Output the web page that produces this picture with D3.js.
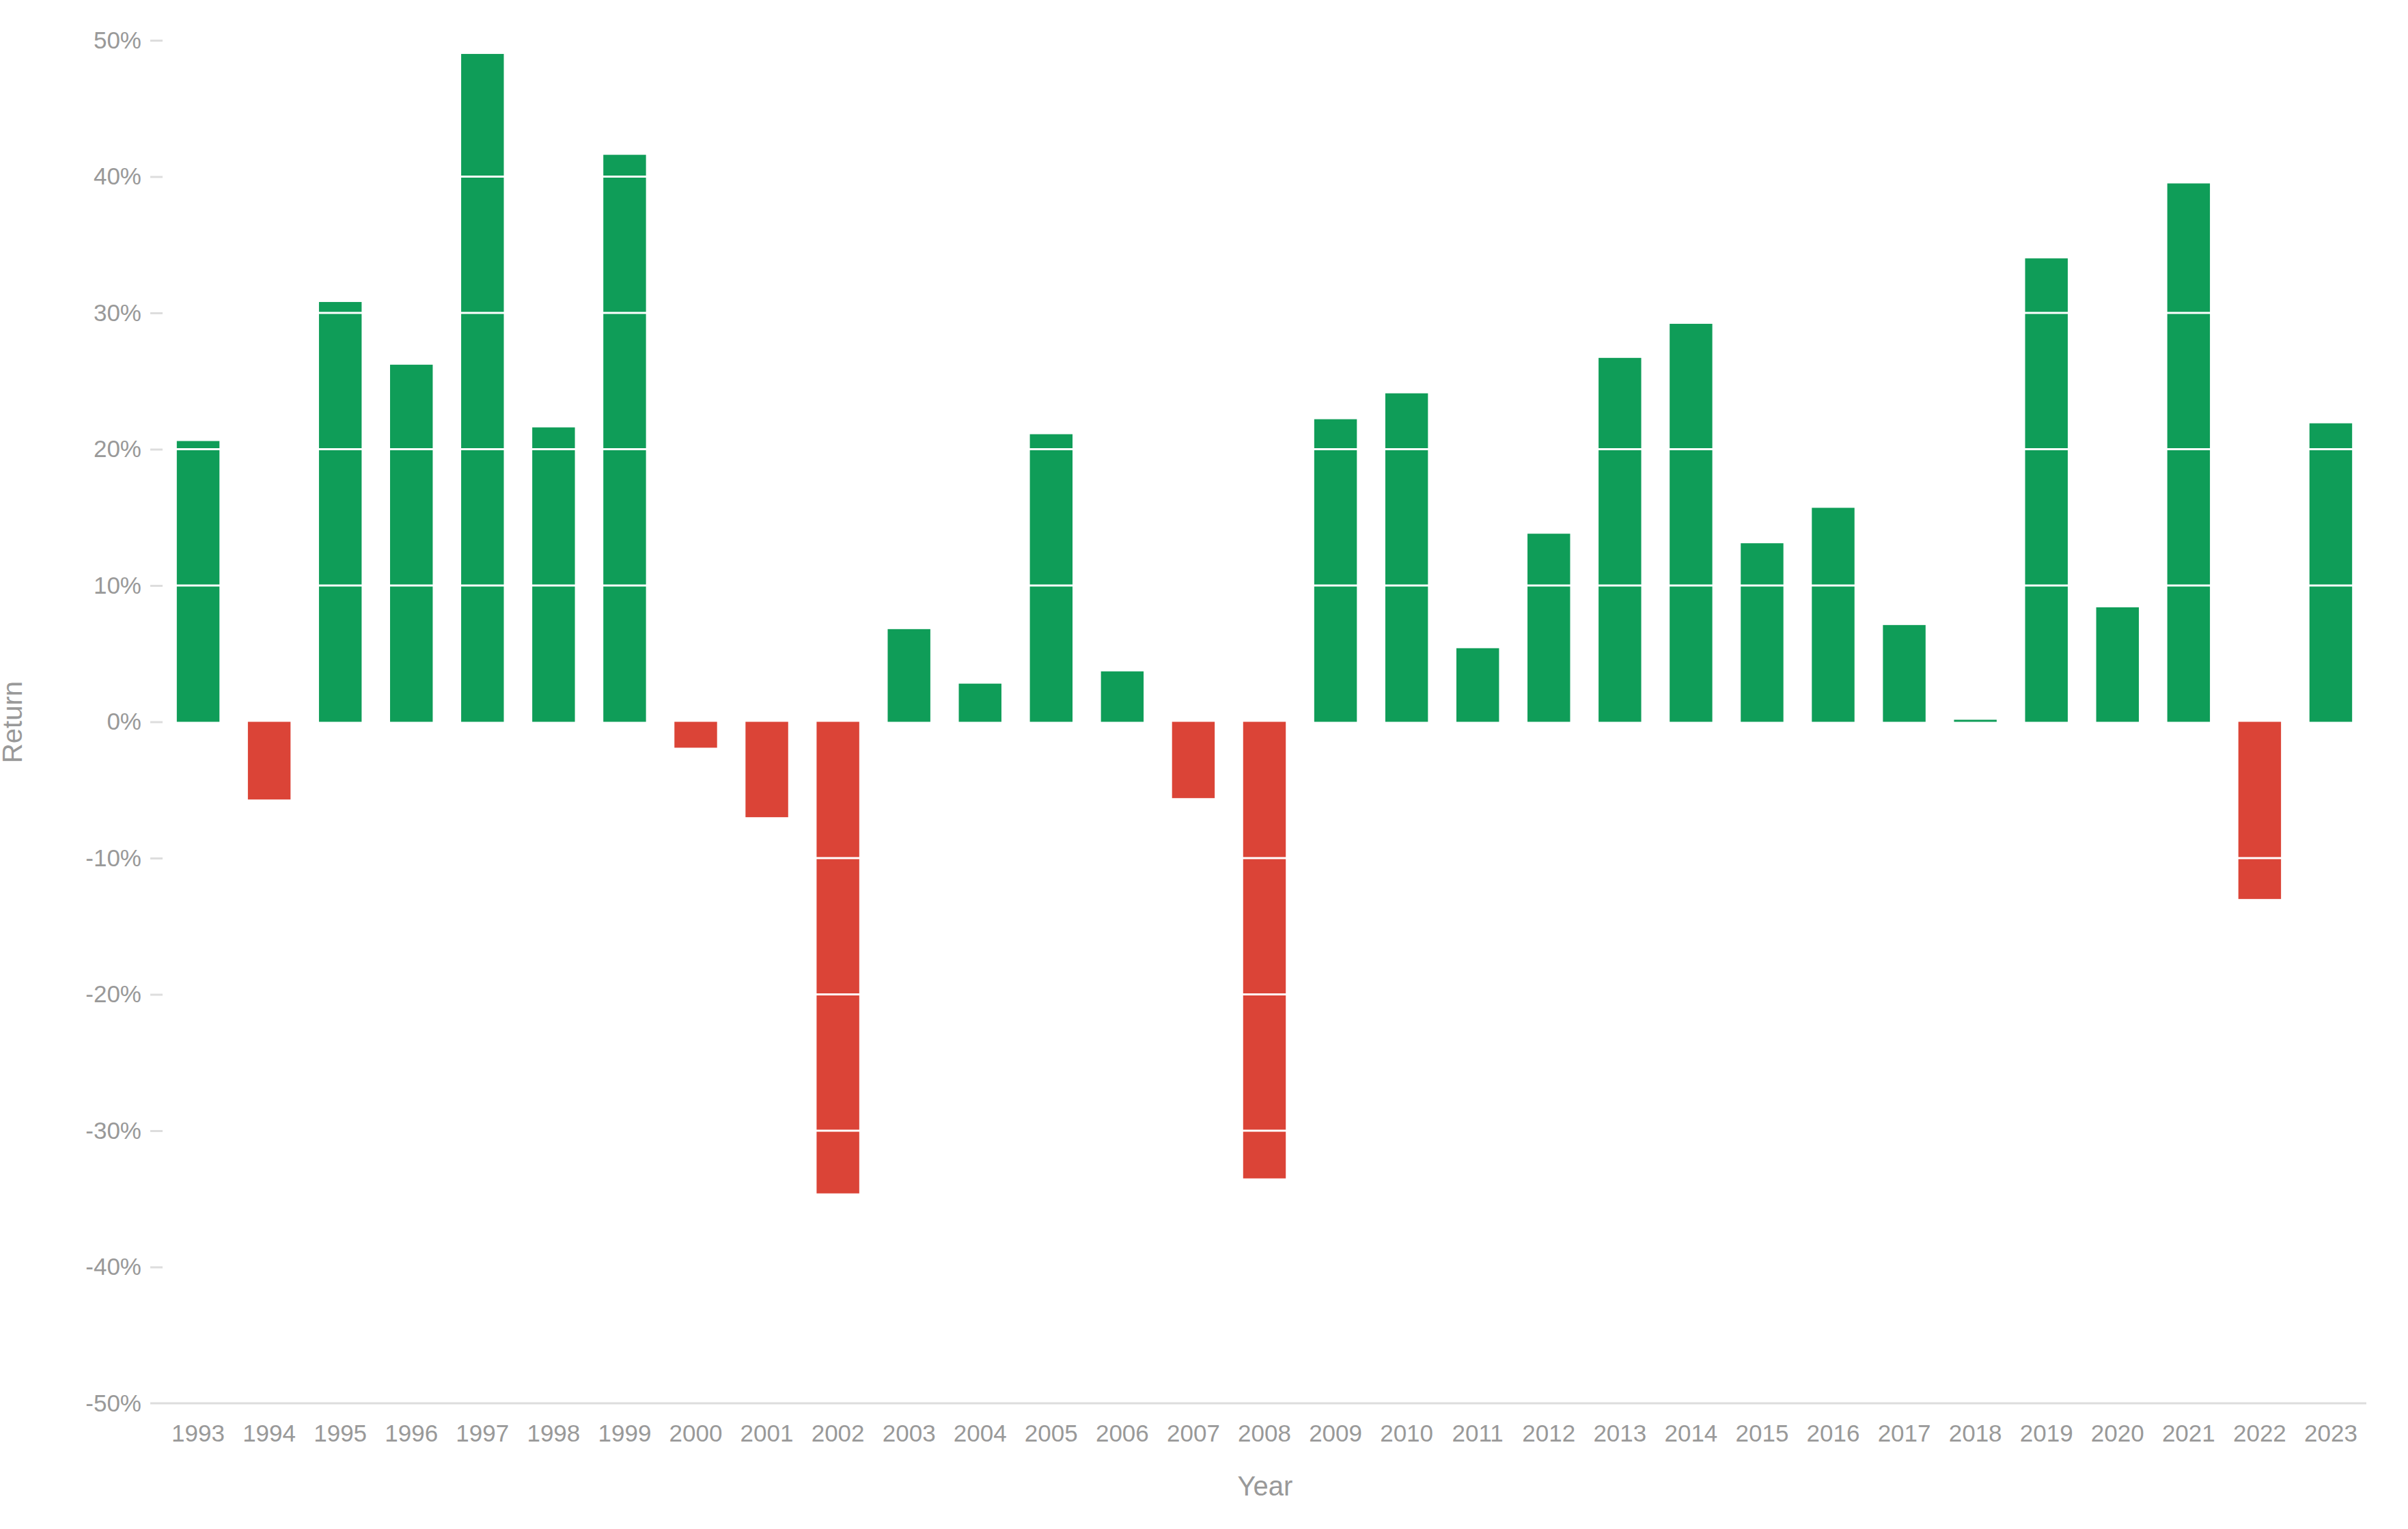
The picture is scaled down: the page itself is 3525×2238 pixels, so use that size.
<!doctype html>
<html lang="en">
  <head>
    <meta charset="utf-8">
    <title>Annual Return</title>
    <style>
      body { margin: 0; background: #fff; }
      text { font-family: "Liberation Sans", Arial, sans-serif; fill: #999; }
    </style>
  </head>
  <body>
    <script src="https://d3js.org/d3.v7.min.js"></script>
    <script>
      // data
      var years = ['1993', '1994', '1995', '1996', '1997', '1998', '1999', '2000', '2001', '2002',
                   '2003', '2004', '2005', '2006', '2007', '2008', '2009', '2010', '2011', '2012',
                   '2013', '2014', '2015', '2016', '2017', '2018', '2019', '2020', '2021', '2022', '2023'];
      var returns = [20.6, -5.7, 30.8, 26.2, 49.0, 21.6, 41.6, -1.9, -7.0, -34.6,
                     6.8, 2.8, 21.1, 3.7, -5.6, -33.5, 22.2, 24.1, 5.4, 13.8,
                     26.7, 29.2, 13.1, 15.7, 7.1, 0.15, 34.0, 8.4, 39.5, -13.0, 21.9];
      var yTicks = [-50, -40, -30, -20, -10, 0, 10, 20, 30, 40, 50];

      var data = years.map(function(y, i) { return { year: y, value: returns[i] }; });

      var width = 3525, height = 2238;

      var svg = d3.select('body').append('svg')
          .attr('width', width)
          .attr('height', height);

      var x = d3.scaleBand()
          .domain(years)
          .range([238, 3464])
          .paddingInner(0.4)
          .paddingOuter(0.2);

      var y = d3.scaleLinear()
          .domain([-50, 50])
          .range([2054, 59]);

      // bars
      svg.append('g').selectAll('rect')
        .data(data)
        .enter().append('rect')
          .attr('x', function(d) { return x(d.year); })
          .attr('width', x.bandwidth())
          .attr('y', function(d) { return y(Math.max(0, d.value)); })
          .attr('height', function(d) { return Math.abs(y(d.value) - y(0)); })
          .attr('fill', function(d) { return d.value >= 0 ? '#0f9d58' : '#db4437'; });

      // white grid lines drawn over the bars
      svg.append('g').selectAll('line')
        .data(yTicks.filter(function(t) { return t !== 0 && Math.abs(t) !== 50; }))
        .enter().append('line')
          .attr('x1', 238)
          .attr('x2', 3464)
          .attr('y1', function(d) { return y(d); })
          .attr('y2', function(d) { return y(d); })
          .attr('stroke', '#fff')
          .attr('stroke-width', 3);

      // y axis
      var yAxis = svg.append('g')
          .attr('transform', 'translate(238,0)')
          .call(d3.axisLeft(y).tickValues(yTicks).tickSize(18).tickPadding(13)
            .tickFormat(function(d) { return d + '%'; }));
      yAxis.select('.domain').remove();
      yAxis.selectAll('.tick line').attr('stroke', '#ddd').attr('stroke-width', 3);
      yAxis.selectAll('.tick text')
          .style('font-size', '35px')
          .attr('fill', '#999')
          .attr('font-family', null);
      yAxis.selectAll('.tick').filter(function(d) { return d === -50; }).select('line').remove();

      // x axis
      var xAxis = svg.append('g')
          .attr('transform', 'translate(0,2054)')
          .call(d3.axisBottom(x).tickSize(0).tickPadding(31));
      xAxis.select('.domain').remove();
      xAxis.selectAll('.tick text')
          .style('font-size', '35px')
          .attr('fill', '#999')
          .attr('font-family', null);

      svg.append('line')
          .attr('x1', 220)
          .attr('x2', 3464)
          .attr('y1', 2054)
          .attr('y2', 2054)
          .attr('stroke', '#ddd')
          .attr('stroke-width', 3);

      // axis titles
      svg.append('text')
          .attr('x', 1852)
          .attr('y', 2189)
          .attr('text-anchor', 'middle')
          .style('font-size', '40px')
          .text('Year');

      svg.append('text')
          .attr('transform', 'translate(32,1057) rotate(-90)')
          .attr('text-anchor', 'middle')
          .style('font-size', '40px')
          .text('Return');
    </script>
  </body>
</html>
